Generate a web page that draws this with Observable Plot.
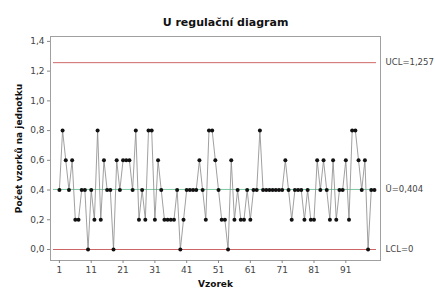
<!DOCTYPE html>
<html><head><meta charset="utf-8">
<script src="https://cdn.jsdelivr.net/npm/d3@7"></script>
<script src="https://cdn.jsdelivr.net/npm/@observablehq/plot@0.6"></script>
<style>body{margin:0;background:#fff}</style>
</head><body><div id="chart"></div>
<script>
const title = "U regulační diagram";
const yLabel = "Počet vzorků na jednotku";
const xLabel = "Vzorek";
const samples = d3.range(1, 101);
const values = [
  0.4,0.8,0.6,0.4,0.6,0.2,0.2,0.4,0.4,0,
  0.4,0.2,0.8,0.2,0.6,0.4,0.4,0,0.6,0.4,
  0.6,0.6,0.6,0.4,0.8,0.2,0.4,0.2,0.8,0.8,
  0.2,0.6,0.4,0.2,0.2,0.2,0.2,0.4,0,0.2,
  0.4,0.4,0.4,0.4,0.6,0.4,0.2,0.8,0.8,0.6,
  0.4,0.2,0.2,0,0.6,0.2,0.4,0.2,0.2,0.4,
  0.2,0.4,0.4,0.8,0.4,0.4,0.4,0.4,0.4,0.4,
  0.4,0.6,0.4,0.2,0.4,0.4,0.4,0.2,0.4,0.2,
  0.2,0.6,0.4,0.6,0.4,0.2,0.6,0.2,0.4,0.4,
  0.6,0.2,0.8,0.8,0.6,0.4,0.6,0,0.4,0.4
];
const limitNames = ["UCL", "Ū", "LCL"];
const limitValues = [1.257, 0.404, 0];
const limitLabels = ["UCL=1,257", "Ū=0,404", "LCL=0"];
const xTicks = [1, 11, 21, 31, 41, 51, 61, 71, 81, 91];
const yTicks = [0, 0.2, 0.4, 0.6, 0.8, 1.0, 1.2, 1.4];

const data = samples.map((s, i) => ({s, v: values[i]}));
const limits = limitNames.map((n, i) => ({n, v: limitValues[i], label: limitLabels[i]}));
const comma = d => d.toFixed(1).replace(".", ",");

const chart = Plot.plot({
  width: 435, height: 291,
  marginLeft: 50, marginRight: 55, marginTop: 36, marginBottom: 31,
  style: {fontFamily: "DejaVu Sans", fontSize: "9px", color: "#444", background: "#fff", overflow: "visible"},
  x: {domain: [-1.8, 101.9]},
  y: {domain: [-0.074, 1.433]},
  marks: [
    Plot.frame({stroke: "#a0a0a0"}),
    Plot.axisX({ticks: xTicks, tickSize: 3, tickPadding: 3, stroke: "#888", fill: "#444", label: null, tickFormat: d => d}),
    Plot.axisY({ticks: yTicks, tickSize: 3, tickPadding: 3, stroke: "#888", fill: "#444", label: null, tickFormat: comma}),
    Plot.ruleY(limits.filter(d => d.n !== "Ū"), {y: "v", stroke: "#c04040", strokeWidth: 0.8, insetLeft: 3, insetRight: 4}),
    Plot.ruleY(limits.filter(d => d.n === "Ū"), {y: "v", stroke: "#7cc8a0", strokeWidth: 1, insetLeft: 3, insetRight: 4}),
    Plot.line(data, {x: "s", y: "v", stroke: "#888", strokeWidth: 0.8}),
    Plot.dot(data, {x: "s", y: "v", r: 2, fill: "#111", stroke: "none"}),
    Plot.text(limits, {y: "v", text: "label", frameAnchor: "right", textAnchor: "start", dx: 5, fontSize: 8.5, fill: "#444"}),
    Plot.text([title], {frameAnchor: "top", dy: -18, dx: 10, fontWeight: "bold", fontSize: 11, fill: "#111"}),
    Plot.text([yLabel], {frameAnchor: "left", textAnchor: "middle", lineAnchor: "middle", rotate: -90, dx: -31, fontWeight: "bold", fontSize: 9, fill: "#111"}),
    Plot.text([xLabel], {frameAnchor: "bottom", dy: 26, fontWeight: "bold", fontSize: 9, fill: "#111"})
  ]
});
document.getElementById("chart").append(chart);
</script>
</body></html>
